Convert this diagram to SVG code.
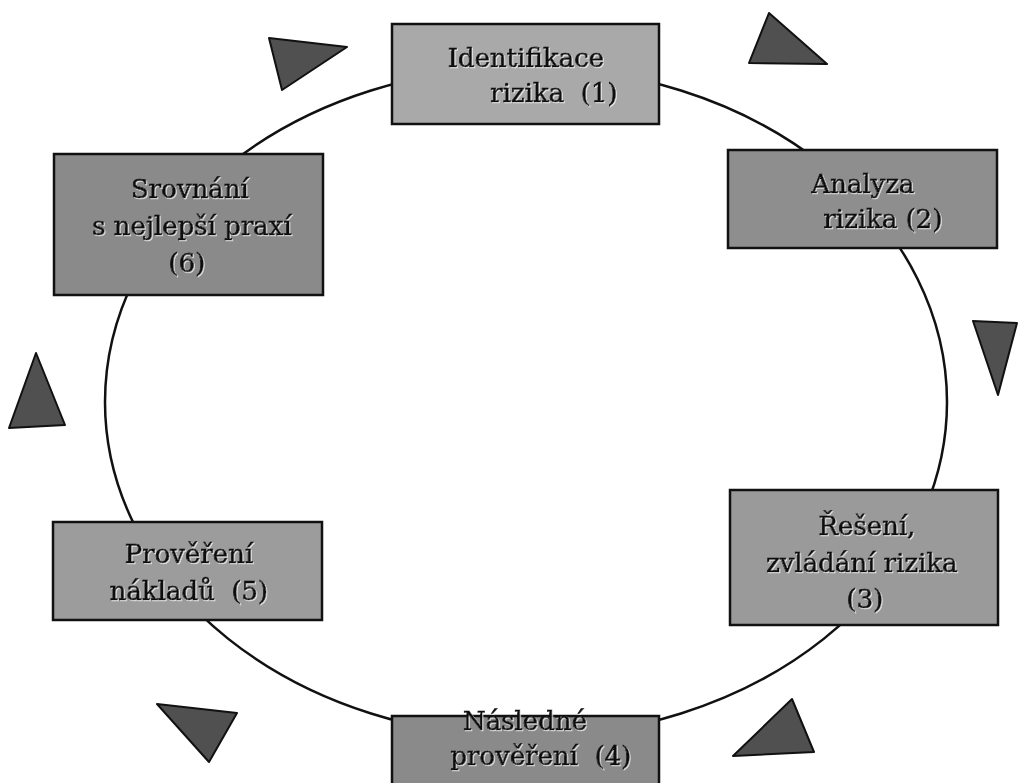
<svg xmlns="http://www.w3.org/2000/svg" width="1018" height="783" viewBox="0 0 1018 783">
<defs>
<filter id="emb" x="-5%" y="-20%" width="110%" height="140%">
<feDropShadow dx="1" dy="1" stdDeviation="0.3" flood-color="#ffffff" flood-opacity="0.7"/>
</filter>
</defs>
<style>
.box{stroke:#111;stroke-width:2.5}
.lbl{font-family:"DejaVu Serif","Liberation Serif",serif;font-size:26px;fill:#111;stroke:#111;stroke-width:0.7;text-anchor:middle;white-space:pre;filter:url(#emb)}
.tri{fill:#505050;stroke:#111;stroke-width:2;stroke-linejoin:round}
.ring{fill:none;stroke:#111;stroke-width:2.5}
</style>
<rect width="1018" height="783" fill="#ffffff"/>
<g id="connectors">
<ellipse class="ring" cx="526" cy="402" rx="421" ry="335"/>
<polygon class="tri" points="269,38 347,47 282,90"/>
<polygon class="tri" points="769,13 827,64 749,63"/>
<polygon class="tri" points="973,321 1017,323 998,395"/>
<polygon class="tri" points="36,353 65,425 9,428"/>
<polygon class="tri" points="157,704 237,713 209,762"/>
<polygon class="tri" points="792,699 814,752 733,756"/>
</g>
<g id="node1">
<rect class="box" x="392" y="24" width="267" height="100" fill="#a9a9a9"/>
<text class="lbl" x="526" y="67">Identifikace</text>
<text class="lbl" x="554" y="102">rizika  (1)</text>
</g>
<g id="node2">
<rect class="box" x="728" y="150" width="269" height="98" fill="#8e8e8e"/>
<text class="lbl" x="863" y="193">Analyza</text>
<text class="lbl" x="883" y="228">rizika (2)</text>
</g>
<g id="node3">
<rect class="box" x="730" y="490" width="268" height="135" fill="#9a9a9a"/>
<text class="lbl" x="867" y="535">Řešení,</text>
<text class="lbl" x="862" y="572">zvládání rizika</text>
<text class="lbl" x="865" y="608">(3)</text>
</g>
<g id="node4">
<rect class="box" x="392" y="716" width="267" height="80" fill="#8a8a8a"/>
<text class="lbl" x="525" y="730">Následné</text>
<text class="lbl" x="541" y="765">prověření  (4)</text>
</g>
<g id="node5">
<rect class="box" x="53" y="522" width="269" height="98" fill="#9c9c9c"/>
<text class="lbl" x="189" y="563">Prověření</text>
<text class="lbl" x="189" y="600">nákladů  (5)</text>
</g>
<g id="node6">
<rect class="box" x="54" y="154" width="269" height="141" fill="#8a8a8a"/>
<text class="lbl" x="190" y="198">Srovnání</text>
<text class="lbl" x="192" y="235">s nejlepší praxí</text>
<text class="lbl" x="187" y="272">(6)</text>
</g>
</svg>
